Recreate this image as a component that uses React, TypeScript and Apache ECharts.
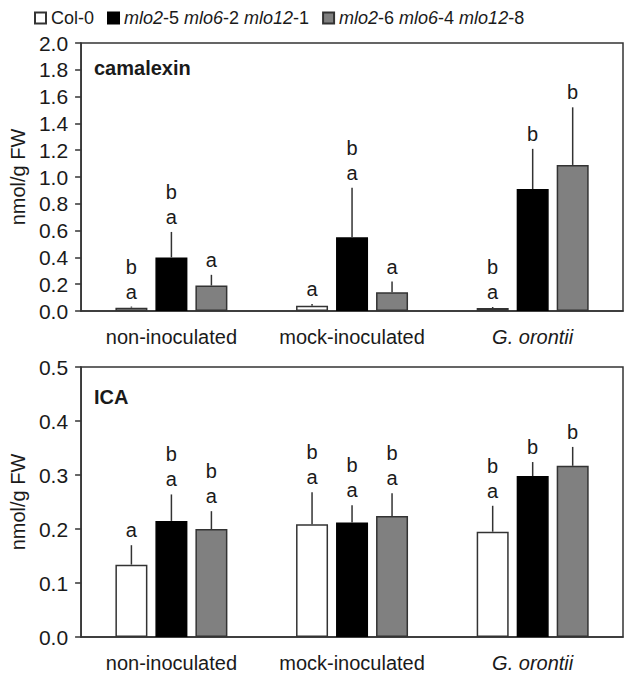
import React, { useEffect, useRef } from "react";
import * as echarts from "echarts";

const categories = ["non-inoculated", "mock-inoculated", "G. orontii"];
const seriesNames = ["Col-0", "mlo2-5 mlo6-2 mlo12-1", "mlo2-6 mlo6-4 mlo12-8"];

// camalexin (nmol/g FW)
const camCol0 = [0.025, 0.04, 0.022];
const camCol0Err = [0.008, 0.012, 0.008];
const camMloA = [0.4, 0.55, 0.91];
const camMloAErr = [0.19, 0.37, 0.3];
const camMloB = [0.19, 0.14, 1.09];
const camMloBErr = [0.08, 0.08, 0.43];
const camCol0Letters = ["ab", "a", "ab"];
const camMloALetters = ["ab", "ab", "b"];
const camMloBLetters = ["a", "a", "b"];

// ICA (nmol/g FW)
const icaCol0 = [0.134, 0.209, 0.195];
const icaCol0Err = [0.036, 0.059, 0.048];
const icaMloA = [0.215, 0.212, 0.298];
const icaMloAErr = [0.049, 0.032, 0.026];
const icaMloB = [0.2, 0.224, 0.317];
const icaMloBErr = [0.033, 0.042, 0.035];
const icaCol0Letters = ["a", "ab", "ab"];
const icaMloALetters = ["ab", "ab", "b"];
const icaMloBLetters = ["ab", "ab", "b"];

const camTicks = { min: 0, max: 2, interval: 0.2 };
const icaTicks = { min: 0, max: 0.5, interval: 0.1 };

const FONT = "'Liberation Sans', Arial, sans-serif";
const TXT = "#1a1a1a";
const LINE = "#333";
const barStyles = [
  { color: "#ffffff", borderColor: "#333", borderWidth: 1.5 },
  { color: "#000000", borderColor: "#000", borderWidth: 1.5 },
  { color: "#808080", borderColor: "#333", borderWidth: 1.5 },
];
const offsets = [-40, 0, 40];

function errSeries(grid: number, si: number, vals: number[], errs: number[], letters: string[]) {
  return {
    type: "custom",
    xAxisIndex: grid,
    yAxisIndex: grid,
    z: 5,
    silent: true,
    data: vals.map((v, i) => [i, v, errs[i]]),
    encode: { x: 0, y: 1 },
    renderItem: (params: any, api: any) => {
      const ci = api.value(0);
      const v = api.value(1);
      const e = api.value(2);
      const base = api.coord([ci, v]);
      const tip = api.coord([ci, v + e]);
      const x = base[0] + offsets[si];
      const L = letters[params.dataIndex] || "";
      const children: any[] = [
        {
          type: "line",
          shape: { x1: x, y1: base[1], x2: x, y2: tip[1] },
          style: { stroke: LINE, lineWidth: 1.5 },
        },
      ];
      L.split("").forEach((ch, k) => {
        children.push({
          type: "text",
          x: x,
          y: tip[1] - 15 - 25 * k,
          style: {
            text: ch,
            align: "center",
            verticalAlign: "middle",
            fontSize: 20,
            fontFamily: FONT,
            fill: TXT,
          },
        });
      });
      return { type: "group", children };
    },
  };
}

function barSeries(grid: number, si: number, vals: number[]) {
  return {
    type: "bar",
    name: seriesNames[si],
    xAxisIndex: grid,
    yAxisIndex: grid,
    barWidth: 32,
    barGap: "25%",
    itemStyle: barStyles[si],
    data: vals,
  };
}

export default function App() {
  const ref = useRef<HTMLDivElement>(null);
  useEffect(() => {
    if (!ref.current) return;
    const chart = echarts.init(ref.current, undefined, { renderer: "svg" });
    const xAxisCommon = {
      type: "category",
      data: categories,
      axisTick: { show: false },
      axisLine: { lineStyle: { color: LINE, width: 1.5 } },
      axisLabel: {
        interval: 0,
        color: TXT,
        fontSize: 20,
        fontFamily: FONT,
        margin: 16,
        formatter: (v: string) => (v === "G. orontii" ? "{i|G. orontii}" : v),
        rich: { i: { fontStyle: "italic", fontSize: 20, fontFamily: FONT, color: TXT } },
      },
    };
    const yAxisCommon = {
      type: "value",
      name: "nmol/g FW",
      nameLocation: "middle",
      nameGap: 51,
      nameTextStyle: { color: TXT, fontSize: 20, fontFamily: FONT },
      splitLine: { show: false },
      axisLine: { show: true, lineStyle: { color: LINE, width: 1.5 } },
      axisTick: { show: true, inside: false, length: 6, lineStyle: { color: LINE, width: 1.5 } },
      axisLabel: {
        color: TXT,
        fontSize: 21,
        fontFamily: FONT,
        margin: 13,
        formatter: (v: number) => v.toFixed(1),
      },
    };
    chart.setOption({
      animation: false,
      backgroundColor: "#ffffff",
      textStyle: { fontFamily: FONT },
      title: [
        { text: "camalexin", left: 89, top: 53, textStyle: { fontSize: 20, fontWeight: "bold", color: TXT, fontFamily: FONT } },
        { text: "ICA", left: 89, top: 382, textStyle: { fontSize: 20, fontWeight: "bold", color: TXT, fontFamily: FONT } },
      ],
      legend: {
        data: seriesNames,
        left: 29,
        top: 4,
        icon: "rect",
        itemWidth: 11,
        itemHeight: 11,
        itemGap: 13,
        textStyle: {
          color: TXT,
          fontSize: 18,
          fontFamily: FONT,
          rich: { i: { fontStyle: "italic", fontSize: 18, fontFamily: FONT, color: TXT } },
        },
        formatter: (name: string) => name.replace(/mlo(\d+)/g, "{i|mlo$1}"),
      },
      grid: [
        { left: 74, right: 6, top: 43, height: 268, show: true, borderColor: LINE, borderWidth: 1.5 },
        { left: 76, right: 6, top: 367, height: 270, show: true, borderColor: LINE, borderWidth: 1.5 },
      ],
      xAxis: [
        { ...xAxisCommon, gridIndex: 0 },
        { ...xAxisCommon, gridIndex: 1 },
      ],
      yAxis: [
        { ...yAxisCommon, gridIndex: 0, ...camTicks },
        { ...yAxisCommon, gridIndex: 1, ...icaTicks },
      ],
      series: [
        barSeries(0, 0, camCol0),
        barSeries(0, 1, camMloA),
        barSeries(0, 2, camMloB),
        barSeries(1, 0, icaCol0),
        barSeries(1, 1, icaMloA),
        barSeries(1, 2, icaMloB),
        errSeries(0, 0, camCol0, camCol0Err, camCol0Letters),
        errSeries(0, 1, camMloA, camMloAErr, camMloALetters),
        errSeries(0, 2, camMloB, camMloBErr, camMloBLetters),
        errSeries(1, 0, icaCol0, icaCol0Err, icaCol0Letters),
        errSeries(1, 1, icaMloA, icaMloAErr, icaMloALetters),
        errSeries(1, 2, icaMloB, icaMloBErr, icaMloBLetters),
      ],
    });
    return () => chart.dispose();
  }, []);
  return (
    <div
      ref={ref}
      style={{ position: "absolute", left: 0, top: 0, width: 629, height: 674 }}
    />
  );
}
